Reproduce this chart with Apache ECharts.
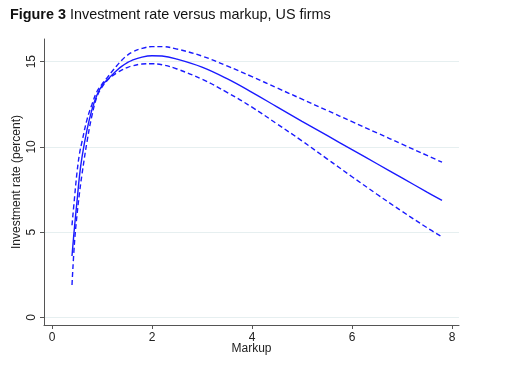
<!DOCTYPE html>
<html>
<head>
<meta charset="utf-8">
<script src="https://cdn.jsdelivr.net/npm/echarts@6/dist/echarts.min.js"></script>
<style>html,body{margin:0;padding:0;background:#fff;}#c{width:518px;height:373px;}</style>
</head>
<body>
<div id="c"></div>
<script>
const markup = [0.4, 0.45, 0.5, 0.55, 0.6, 0.7, 0.8, 0.9, 1.0, 1.1, 1.2, 1.3, 1.4, 1.5, 1.6, 1.8, 2.0, 2.2, 2.5, 3.0, 3.5, 4.0, 4.5, 5.0, 5.5, 6.0, 6.5, 7.0, 7.5, 7.8];
const fitted = [3.6, 5.3, 6.8, 8.3, 9.4, 11.0, 12.2, 13.05, 13.6, 13.92, 14.22, 14.5, 14.74, 14.93, 15.08, 15.27, 15.35, 15.33, 15.15, 14.68, 14.0, 13.2, 12.35, 11.5, 10.67, 9.84, 9.01, 8.18, 7.35, 6.86];
const upperCI = [5.4, 7.0, 8.5, 9.6, 10.3, 11.6, 12.5, 13.25, 13.68, 14.05, 14.42, 14.78, 15.1, 15.36, 15.55, 15.78, 15.88, 15.88, 15.74, 15.33, 14.75, 14.12, 13.46, 12.8, 12.14, 11.48, 10.82, 10.16, 9.5, 9.1];
const lowerCI = [1.9, 4.4, 6.0, 7.3, 8.4, 10.3, 11.85, 12.95, 13.5, 13.88, 14.15, 14.35, 14.52, 14.65, 14.75, 14.86, 14.88, 14.82, 14.57, 13.97, 13.2, 12.33, 11.35, 10.35, 9.3, 8.25, 7.22, 6.22, 5.26, 4.72];
const xTicks = [0, 2, 4, 6, 8];
const yTicks = [0, 5, 10, 15];

const pairs = (ys) => markup.map((x, i) => [x, ys[i]]);
const FONT = "'Liberation Sans', Arial, sans-serif";
const chart = echarts.init(document.getElementById('c'), null, {renderer: 'canvas'});
const lineBlue = '#1a1aff';
chart.setOption({
  animation: false,
  title: {
    text: '{b|Figure 3} Investment rate versus markup, US firms',
    left: 10, top: 8, padding: 0,
    textStyle: {
      fontFamily: FONT, fontSize: 14.4, fontWeight: 'normal', color: '#111',
      rich: { b: { fontFamily: FONT, fontSize: 14.4, fontWeight: 'bold', color: '#111' } }
    }
  },
  grid: { left: 44, right: 59, top: 39, bottom: 48, containLabel: false },
  xAxis: {
    type: 'value', min: -0.16, max: 8.14,
    name: 'Markup', nameLocation: 'middle', nameGap: 18, nameMoveOverlap: false,
    nameTextStyle: { fontFamily: FONT, fontSize: 12, color: '#222' },
    axisLine: { show: true, onZero: false, lineStyle: { color: '#555', width: 1 } },
    axisTick: { show: true, length: 4, customValues: xTicks, lineStyle: { color: '#555' } },
    axisLabel: { customValues: xTicks, fontFamily: FONT, fontSize: 12, color: '#222', margin: 7, alignMinLabel: 'center', alignMaxLabel: 'center' },
    splitLine: { show: false }
  },
  yAxis: {
    type: 'value', min: -0.45, max: 16.33,
    name: 'Investment rate (percent)', nameLocation: 'middle', nameGap: 21, nameRotate: 90, nameMoveOverlap: false,
    nameTextStyle: { fontFamily: FONT, fontSize: 12, color: '#222' },
    axisLine: { show: true, onZero: false, lineStyle: { color: '#555', width: 1 } },
    axisTick: { show: true, length: 4, customValues: yTicks, lineStyle: { color: '#555' } },
    axisLabel: { customValues: yTicks, rotate: 90, fontFamily: FONT, fontSize: 12, color: '#222', margin: 6 },
    splitLine: { show: true, lineStyle: { color: '#e6eff0', width: 1 } }
  },
  series: [
    { type: 'line', data: pairs(upperCI), showSymbol: false, smooth: 0.4, lineStyle: { color: lineBlue, width: 1.4, type: [5, 3] } },
    { type: 'line', data: pairs(lowerCI), showSymbol: false, smooth: 0.4, lineStyle: { color: lineBlue, width: 1.4, type: [5, 3] } },
    { type: 'line', data: pairs(fitted), showSymbol: false, smooth: 0.4, lineStyle: { color: lineBlue, width: 1.4, type: 'solid' } }
  ]
});
</script>
</body>
</html>
